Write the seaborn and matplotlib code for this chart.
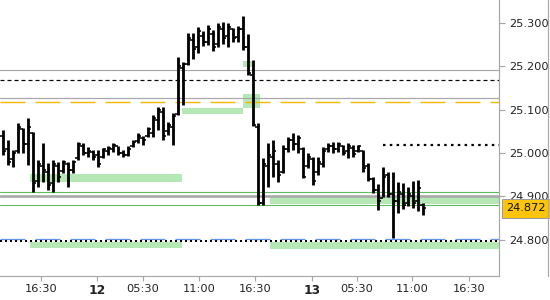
import numpy as np
import pandas as pd
import seaborn as sns
import matplotlib
matplotlib.use("Agg")
import matplotlib.pyplot as plt
from matplotlib.patches import Rectangle
from matplotlib.lines import Line2D

# ---------------- data (30-minute OHLC bars) ----------------
open_ = [25.040, 25.010, 24.985, 25.005, 25.055, 25.020, 25.045, 24.935, 24.970, 24.955,
         24.930, 24.970, 24.958, 24.975, 24.960, 24.988, 25.015, 25.000, 25.002, 24.995,
         24.990, 25.005, 25.010, 25.015, 25.000, 24.995, 25.016, 25.027, 25.035, 25.040,
         25.045, 25.075, 25.095, 25.050, 25.060, 25.090, 25.195, 25.205, 25.260, 25.245,
         25.270, 25.255, 25.275, 25.250, 25.285, 25.270, 25.285, 25.268, 25.285, 25.245,
         25.180, 25.060, 24.885, 24.970, 24.990, 24.975, 24.955, 25.010, 25.030, 25.020,
         25.010, 24.970, 24.985, 24.955, 24.975, 25.010, 25.015, 25.010, 25.015, 25.005,
         25.012, 25.005, 25.005, 24.970, 24.940, 24.915, 24.895, 24.950, 24.905, 24.890,
         24.905, 24.885, 24.900, 24.890, 24.880]
high = [25.053, 25.030, 25.007, 25.069, 25.057, 25.080, 25.048, 24.984, 25.023, 24.976,
        24.984, 24.979, 24.984, 24.979, 24.984, 25.025, 25.023, 25.014, 25.007, 25.007,
        25.011, 25.016, 25.023, 25.016, 25.007, 25.016, 25.030, 25.046, 25.039, 25.060,
        25.087, 25.106, 25.106, 25.071, 25.092, 25.221, 25.209, 25.276, 25.276, 25.290,
        25.281, 25.295, 25.283, 25.299, 25.302, 25.299, 25.288, 25.292, 25.315, 25.274,
        25.214, 25.069, 24.988, 25.023, 25.030, 24.984, 25.018, 25.037, 25.046, 25.041,
        25.014, 25.000, 24.991, 24.991, 25.014, 25.023, 25.025, 25.025, 25.018, 25.023,
        25.018, 25.018, 25.007, 24.977, 24.945, 24.928, 24.968, 24.956, 24.956, 24.933,
        24.931, 24.921, 24.935, 24.938, 24.885]
low = [24.995, 24.972, 24.968, 25.000, 25.000, 24.972, 24.910, 24.921, 24.933, 24.915,
       24.910, 24.933, 24.954, 24.921, 24.954, 24.984, 24.995, 24.991, 24.984, 24.968,
       24.988, 24.995, 25.002, 24.995, 24.991, 24.993, 25.014, 25.023, 25.018, 25.037,
       25.037, 25.053, 25.030, 25.041, 25.018, 25.087, 25.110, 25.203, 25.216, 25.230,
       25.246, 25.249, 25.235, 25.244, 25.251, 25.244, 25.256, 25.256, 25.237, 25.180,
       25.062, 24.880, 24.880, 24.921, 24.945, 24.933, 24.954, 25.002, 25.007, 25.000,
       24.942, 24.965, 24.926, 24.949, 24.968, 25.002, 25.000, 25.002, 24.995, 24.988,
       24.991, 25.002, 24.956, 24.935, 24.908, 24.868, 24.898, 24.898, 24.804, 24.862,
       24.871, 24.878, 24.873, 24.866, 24.857]
close = [25.005, 24.980, 25.000, 25.060, 25.020, 25.060, 24.930, 24.975, 24.960, 24.925,
         24.975, 24.945, 24.978, 24.960, 24.980, 25.020, 25.000, 25.005, 24.990, 24.975,
         25.008, 25.012, 25.018, 25.000, 24.995, 25.010, 25.025, 25.040, 25.030, 25.055,
         25.080, 25.100, 25.040, 25.065, 25.085, 25.200, 25.205, 25.265, 25.240, 25.280,
         25.255, 25.285, 25.245, 25.290, 25.265, 25.290, 25.265, 25.285, 25.245, 25.185,
         25.065, 24.885, 24.975, 24.995, 25.005, 24.950, 25.010, 25.030, 25.020, 25.035,
         24.945, 24.990, 24.935, 24.980, 25.005, 25.015, 25.010, 25.020, 25.000, 25.015,
         24.998, 25.015, 24.965, 24.940, 24.915, 24.890, 24.945, 24.905, 24.890, 24.910,
         24.880, 24.905, 24.885, 24.920, 24.872]

tick_pos = [7.54, 18.74, 27.94, 39.26, 50.46, 61.74, 70.74, 81.86, 93.2]
tick_labels = ["16:30", "12", "05:30", "11:00", "16:30", "13", "05:30", "11:00", "16:30"]
bold_labels = ["12", "13"]
y_ticks = [24.8, 24.9, 25.0, 25.1, 25.2, 25.3]

# horizontal levels
gray_levels = [25.190, 25.126]
gray_thick_level = [24.901]
green_levels = [24.911, 24.880]
black_dash_level = [25.167]
orange_level = [25.117]
blue_level = [24.8025]
dot_level_full = [24.7975]
dot_level_short = [25.018]
dot_short_start = [76.0]

# zones (x0, x1 in bar units, lo, hi prices)
zone_x0 = [5.4, 35.8, 48.0, 48.0, 53.4, 5.4, 53.4]
zone_x1 = [35.8, 48.0, 51.4, 50.2, 99.2, 35.8, 99.2]
zone_lo = [24.933, 25.090, 25.1035, 25.198, 24.882, 24.781, 24.779]
zone_hi = [24.951, 25.1035, 25.136, 25.212, 24.898, 24.795, 24.795]

last_price = close[-1]

df = pd.DataFrame({"open": open_, "high": high, "low": low, "close": close})
df["idx"] = np.arange(len(df))

# ---------------- style ----------------
sns.set_theme(style="white")
plt.rcParams["font.family"] = ["DejaVu Sans"]
plt.rcParams["lines.scale_dashes"] = False

PX = 0.72  # points per pixel at 100 dpi
fig = plt.figure(figsize=(5.5, 3.0), dpi=100)
ax = fig.add_axes([0.0, 0.08, 499 / 550, 0.92])
XMIN, XMAX = -0.6, 99.2
ax.set_xlim(XMIN, XMAX)
ax.set_ylim(24.7164, 25.3523)

# zones
for x0, x1, lo, hi in zip(zone_x0, zone_x1, zone_lo, zone_hi):
    ax.add_patch(Rectangle((x0, lo), x1 - x0, hi - lo, facecolor="#b5e8b5",
                           edgecolor="none", zorder=1))

# level lines
for lv in gray_levels:
    ax.axhline(lv, color="#a8a8a8", lw=1.2 * PX, zorder=2)
for lv in gray_thick_level:
    ax.axhline(lv, color="#a8a8a8", lw=2.6 * PX, zorder=2)
for lv in green_levels:
    ax.axhline(lv, color="#5cbf5c", lw=1.1 * PX, zorder=2)
for lv in black_dash_level:
    ax.axhline(lv, color="black", lw=1.2 * PX, dashes=(4 * PX, 3 * PX), zorder=2)
for lv in orange_level:
    ax.axhline(lv, color="#f5b700", lw=1.4 * PX, dashes=(25 * PX, 10 * PX), zorder=2)
for lv in blue_level:
    ax.axhline(lv, color="#6495ed", lw=1.3 * PX, dashes=(25 * PX, 10 * PX), zorder=2)
for lv in dot_level_full:
    ax.axhline(lv, color="black", lw=2.0 * PX, dashes=(2 * PX, 3 * PX), zorder=2)
for lv, xs in zip(dot_level_short, dot_short_start):
    ax.hlines(lv, xs, XMAX, color="black", lw=2.2 * PX, linestyles=(0, (2.5 * PX, 4.3 * PX)), zorder=2)

# OHLC bars
ax.vlines(df["idx"], df["low"], df["high"], color="black", lw=2.8 * PX, zorder=4)
ax.hlines(df["open"], df["idx"] - 0.55, df["idx"], color="black", lw=1.6 * PX, zorder=4)
ax.hlines(df["close"], df["idx"], df["idx"] + 0.55, color="black", lw=1.6 * PX, zorder=4)

# axes styling
for s in ["left", "top"]:
    ax.spines[s].set_visible(False)
for s in ["right", "bottom"]:
    ax.spines[s].set_visible(True)
    ax.spines[s].set_color("#a8a8a8")
    ax.spines[s].set_linewidth(1.2 * PX)

ax.yaxis.tick_right()
ax.set_yticks(y_ticks)
ax.set_yticklabels([f"{v:.3f}" for v in y_ticks])
ax.tick_params(axis="y", which="both", right=True, left=False, length=4, width=1.2 * PX,
               color="#a8a8a8", pad=3, labelsize=8.2, labelcolor="#222222")
ax.set_xticks(tick_pos)
ax.set_xticklabels(tick_labels)
ax.tick_params(axis="x", which="both", bottom=True, length=3.5, width=1.2 * PX,
               color="#a8a8a8", pad=2, labelsize=8.2, labelcolor="#222222")
for lab in ax.get_xticklabels():
    if lab.get_text() in bold_labels:
        lab.set_fontweight("bold")
        lab.set_fontsize(8.8)
ax.grid(False)

# last price label
ax.annotate(f"{last_price:.3f}", xy=(1.0, last_price), xycoords=("axes fraction", "data"),
            xytext=(7.5 * PX, 0), textcoords="offset points", ha="left", va="center",
            fontsize=8.2, color="#111111", zorder=6, annotation_clip=False,
            bbox=dict(boxstyle="square,pad=0.38", facecolor="#fcc40a",
                      edgecolor="#9a9a9a", linewidth=1.0 * PX))

# right border of the chart window
fig.add_artist(Line2D([548 / 550, 548 / 550], [0.08, 1.0], transform=fig.transFigure,
                      color="#a8a8a8", lw=1.2 * PX))

fig.savefig("out.png", dpi=100, facecolor="white")
